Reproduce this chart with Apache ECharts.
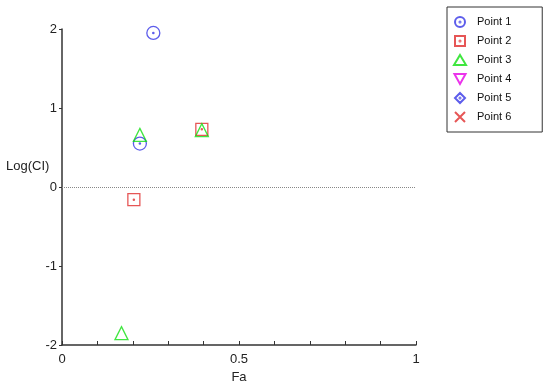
<!DOCTYPE html>
<html>
<head>
    <meta charset="utf-8">
    <title>Fa - Log(CI)</title>
    <script src="https://cdn.jsdelivr.net/npm/echarts@6/dist/echarts.min.js"></script>
    <style>
        body { margin: 0; background: #fff; }
    </style>
</head>
<body>
<div id="main" style="width: 550px;height:388px;"></div>

<script type="text/javascript">
    // data: [Fa, Log(CI)]
    var point1 = [[0.258, 1.95], [0.22, 0.55]];
    var point2 = [[0.203, -0.16], [0.395, 0.73]];
    var point3 = [[0.22, 0.66], [0.395, 0.72], [0.168, -1.85]];
    var point4 = [];
    var point5 = [];
    var point6 = [];

    var seriesNames = ['Point 1', 'Point 2', 'Point 3', 'Point 4', 'Point 5', 'Point 6'];
    var xLabels = [0, 0.5, 1];
    var yTicks = [-2, -1, 0, 1, 2];

    var dot = ' M9,10 A1,1 0 1,0 11,10 A1,1 0 1,0 9,10 Z';
    var symbols = [
        'path://M0,10 A10,10 0 1,0 20,10 A10,10 0 1,0 0,10 Z' + dot,
        'path://M0,0 L20,0 L20,20 L0,20 Z' + dot,
        'triangle',
        'path://M0,0 L20,0 L10,18 Z',
        'path://M10,0 L20,10 L10,20 L0,10 Z' + dot,
        'path://M0,0 L20,20 M20,0 L0,20'
    ];
    var colors = ['#3535e6', '#e02c2c', '#10e010', '#e600e6', '#3535e6', '#e02c2c'];
    var sizes = [13, 12, 13, 12, 12, 12];
    var allData = [point1, point2, point3, point4, point5, point6];

    var series = [];
    for (var i = 0; i < seriesNames.length; i++) {
        series.push({
            name: seriesNames[i],
            type: 'scatter',
            data: allData[i],
            symbol: symbols[i],
            symbolSize: sizes[i],
            itemStyle: {
                color: 'transparent',
                borderColor: colors[i],
                borderWidth: 1.3
            },
            emphasis: { disabled: true }
        });
    }
    // dotted zero line
    series[0].markLine = {
        silent: true,
        symbol: 'none',
        label: { show: false },
        lineStyle: { type: [1, 1], color: '#888', width: 1 },
        data: [{ yAxis: 0 }]
    };

    var myChart = echarts.init(document.getElementById('main'));
    var option = {
        animation: false,
        textStyle: { fontFamily: 'Liberation Sans, Arial, sans-serif' },
        grid: { left: 62, right: 134, top: 29, bottom: 43, outerBoundsMode: 'none' },
        // y axis title sits left of the axis, a little above the zero line
        graphic: [{
            type: 'text',
            left: 6,
            top: 160,
            style: {
                text: 'Log(CI)',
                fontSize: 13,
                fontFamily: 'Liberation Sans, Arial, sans-serif',
                fill: '#222'
            }
        }],
        legend: {
            orient: 'vertical',
            left: 447,
            top: 7,
            padding: [9, 31, 9, 6],
            itemWidth: 12,
            itemHeight: 10,
            itemGap: 7,
            borderColor: '#333',
            borderWidth: 1,
            data: seriesNames,
            textStyle: { fontSize: 11, color: '#111', padding: [0, 0, 0, 6] }
        },
        xAxis: {
            type: 'value',
            min: 0,
            max: 1,
            interval: 0.1,
            name: 'Fa',
            nameLocation: 'middle',
            nameGap: 24,
            nameTextStyle: { fontSize: 13, color: '#222' },
            splitLine: { show: false },
            axisLine: { onZero: false, lineStyle: { color: '#333', width: 1.5 } },
            axisTick: { inside: true, length: 4, lineStyle: { color: '#333' } },
            axisLabel: {
                fontSize: 13,
                color: '#222',
                margin: 8,
                formatter: function (v) {
                    for (var k = 0; k < xLabels.length; k++) {
                        if (Math.abs(v - xLabels[k]) < 1e-6) return String(xLabels[k]);
                    }
                    return '';
                }
            }
        },
        yAxis: {
            type: 'value',
            min: yTicks[0],
            max: yTicks[yTicks.length - 1],
            interval: 1,
            splitLine: { show: false },
            axisLine: { onZero: false, lineStyle: { color: '#333', width: 1.5 } },
            axisTick: { length: 3, lineStyle: { color: '#333' } },
            axisLabel: { fontSize: 13, color: '#222', margin: 5 }
        },
        series: series
    };
    myChart.setOption(option);
</script>
</body>
</html>
